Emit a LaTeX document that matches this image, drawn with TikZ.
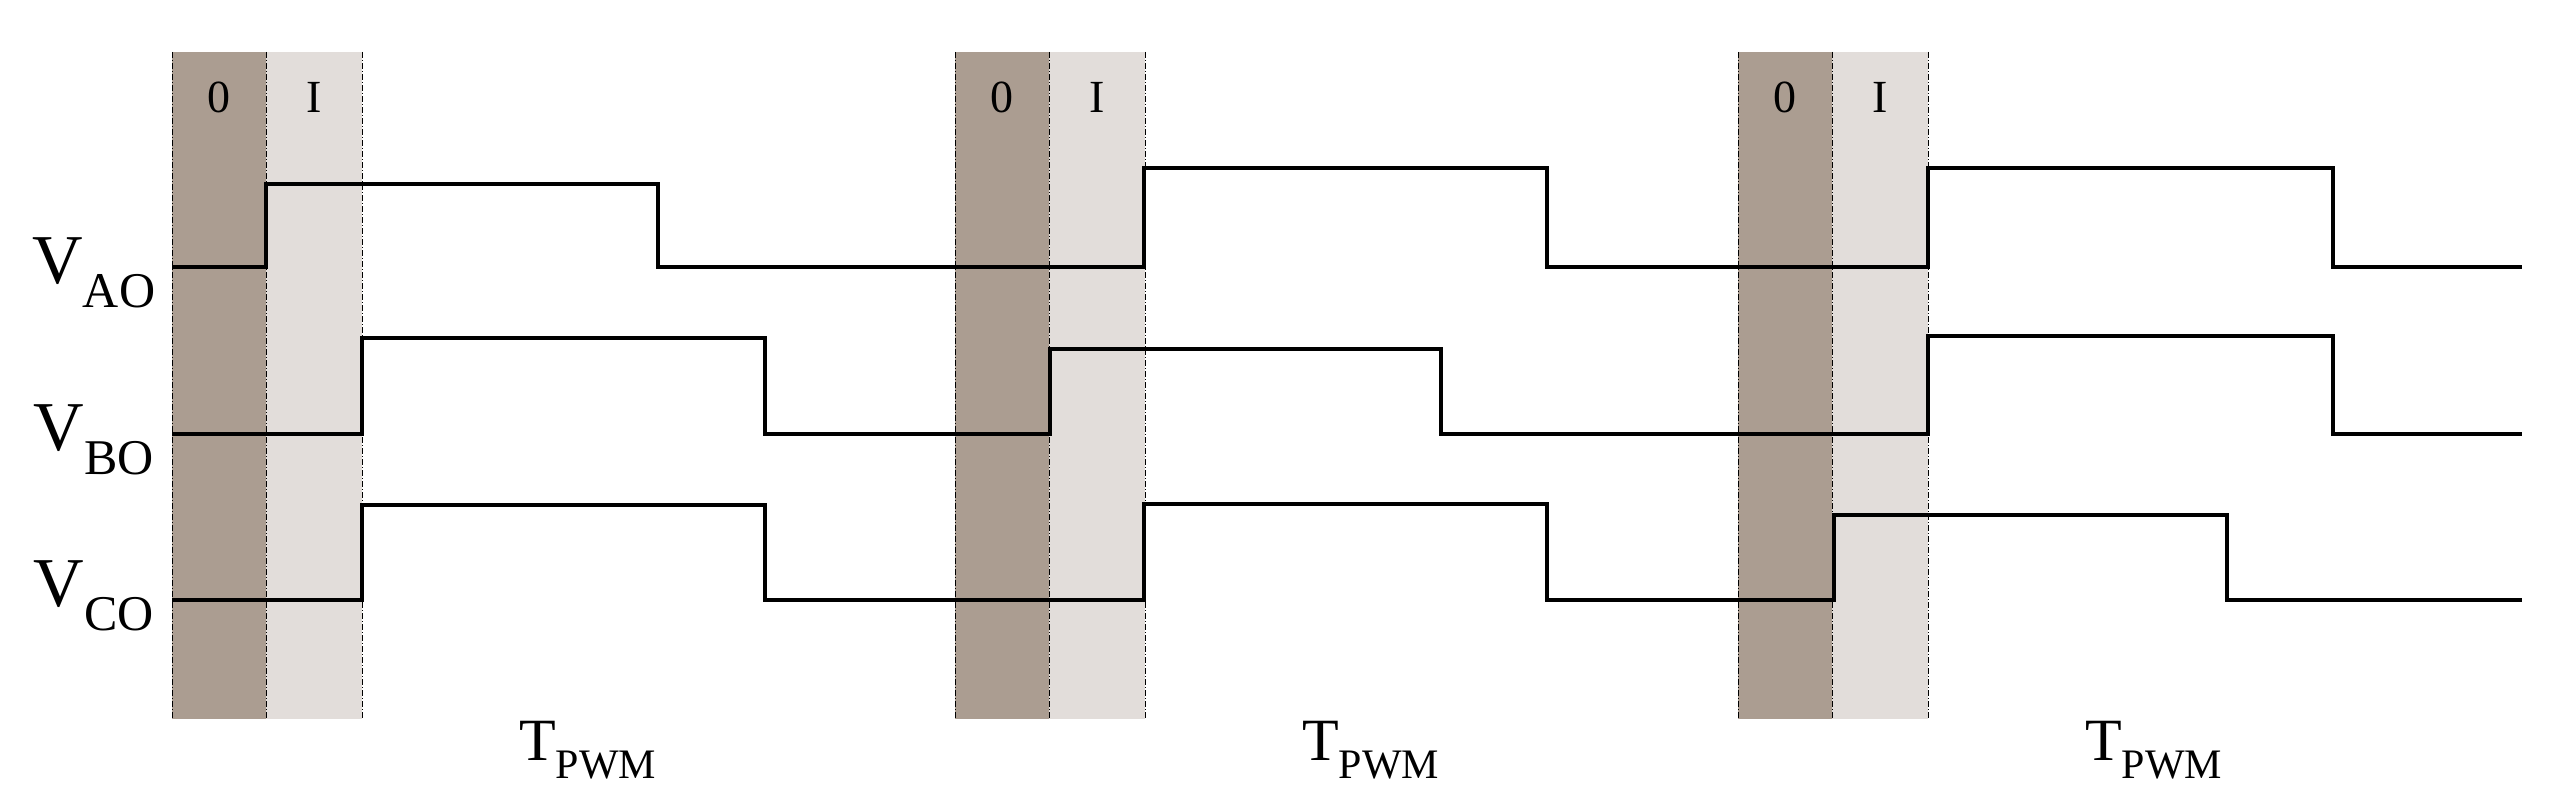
\documentclass[tikz,border=0pt]{standalone}
\usepackage{fontspec}
\setmainfont{Liberation Serif}
\begin{document}
\definecolor{darkb}{RGB}{171,157,145}
\definecolor{lightb}{RGB}{226,221,218}
\begin{tikzpicture}[x=1pt,y=-1pt,
  sig/.style={line width=4pt},
  bord/.style={line width=1pt,dash pattern=on 6pt off 2pt on 1pt off 2pt},
  lab/.style={font=\fontsize{70}{72}\selectfont,anchor=base},
  hd/.style={font=\fontsize{46}{48}\selectfont},
  tp/.style={font=\fontsize{60}{62}\selectfont,anchor=base}]
\useasboundingbox (0,0) rectangle (2556,797);
\foreach \s/\n in {172/a,955/b,1738/c}{
  \fill[darkb] (\s,52) rectangle (\s+94,719);
  \fill[lightb] (\s+94,52) rectangle (\s+190,719);
  \draw[bord] (\s,52) -- (\s,719);
  \draw[bord] (\s+94,52) -- (\s+94,719);
  \draw[bord] (\s+190,52) -- (\s+190,719);
  \node[hd] (z\n) at (\s+47,97) {0};
  \node[hd] (i\n) at (\s+142,97) {I};
}
% VAO
\draw[sig] (172,267) -- (266,267) -- (266,184) -- (658,184) -- (658,267) -- (1144,267) -- (1144,168) -- (1547,168) -- (1547,267) -- (1928,267) -- (1928,168) -- (2333,168) -- (2333,267) -- (2522,267);
% VBO
\draw[sig] (172,434) -- (362,434) -- (362,338) -- (765,338) -- (765,434) -- (1050,434) -- (1050,349) -- (1441,349) -- (1441,434) -- (1928,434) -- (1928,336) -- (2333,336) -- (2333,434) -- (2522,434);
% VCO
\draw[sig] (172,600) -- (362,600) -- (362,505) -- (765,505) -- (765,600) -- (1144,600) -- (1144,504) -- (1547,504) -- (1547,600) -- (1834,600) -- (1834,515) -- (2227,515) -- (2227,600) -- (2522,600);
\node[lab] (va) at (94,283) {V\textsubscript{\fontsize{50}{52}\selectfont AO}};
\node[lab] (vb) at (94,450) {V\textsubscript{\fontsize{50}{52}\selectfont BO}};
\node[lab] (vc) at (94,606) {V\textsubscript{\fontsize{50}{52}\selectfont CO}};
\foreach \x/\n in {588/a,1371/b,2154/c}
  \node[tp] (t\n) at (\x,760) {T\textsubscript{\fontsize{42}{44}\selectfont PWM}};
\end{tikzpicture}
\end{document}
